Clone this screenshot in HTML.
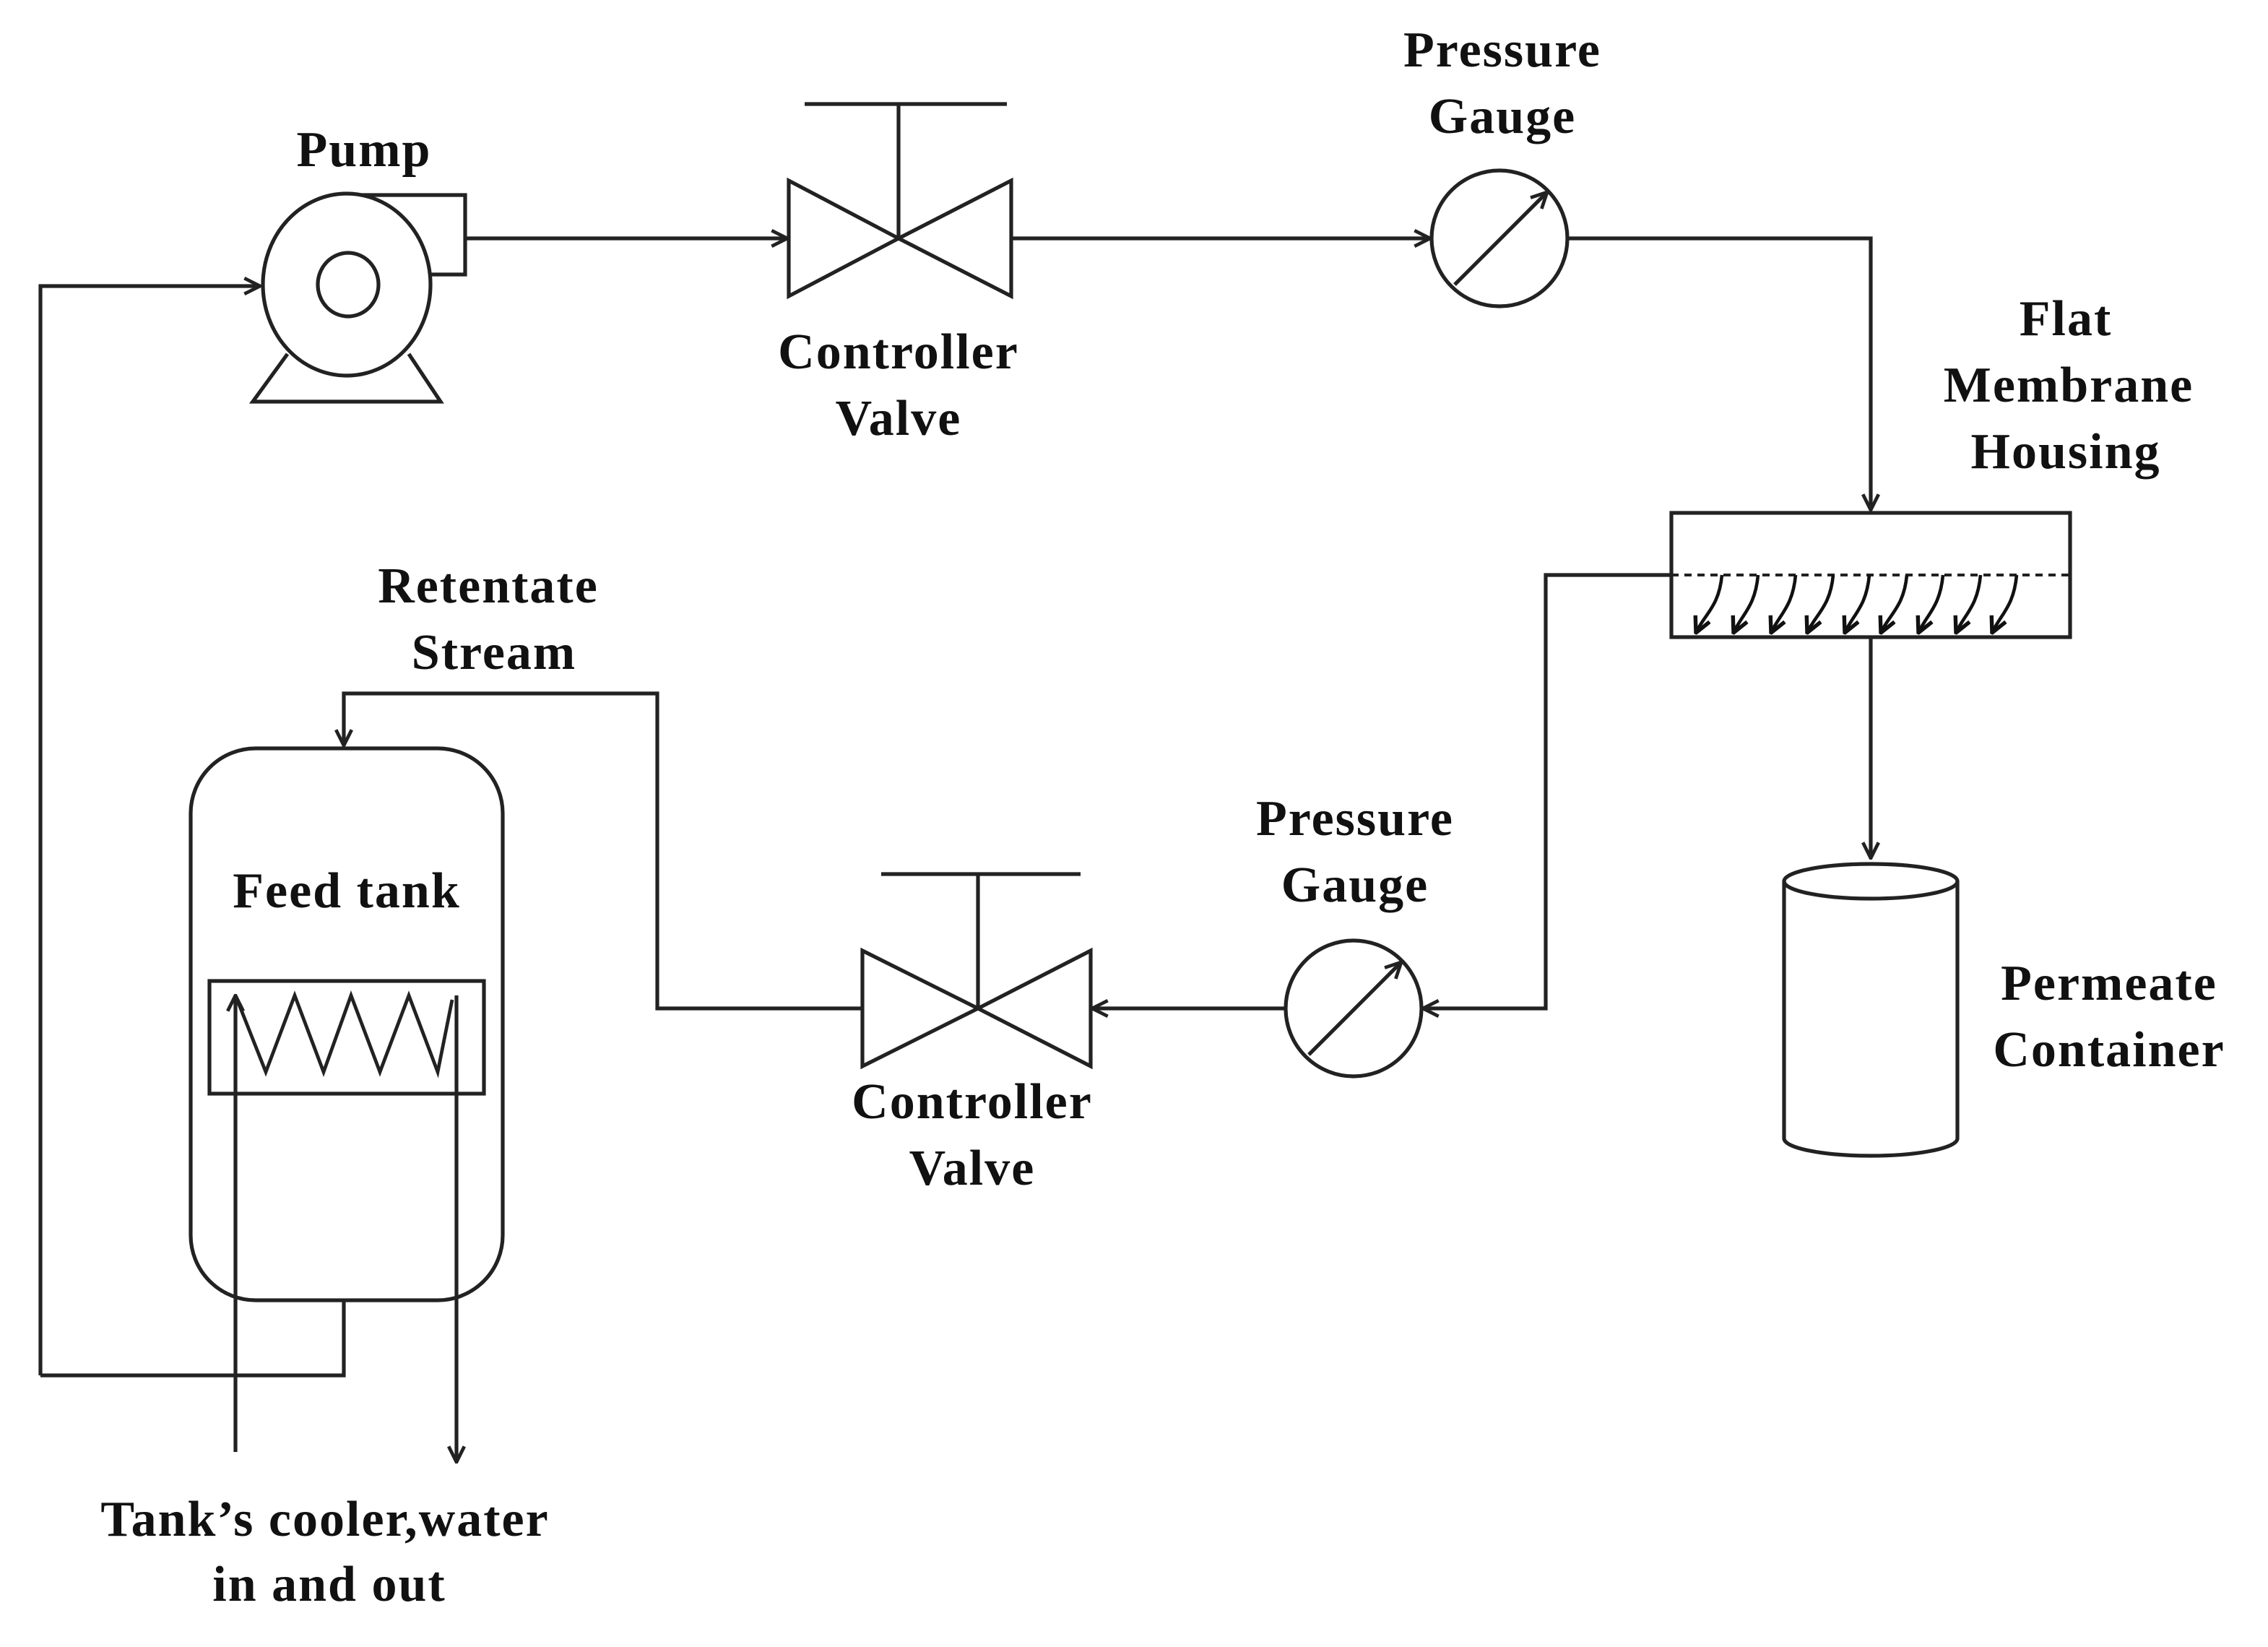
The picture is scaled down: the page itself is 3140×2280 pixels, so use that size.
<!DOCTYPE html>
<html><head><meta charset="utf-8"><style>
html,body{margin:0;padding:0;background:#fff;}
svg{display:block;}
text{font-family:"Liberation Serif",serif;font-weight:bold;font-size:35px;letter-spacing:1px;fill:#111;text-anchor:middle;}
</style></head><body>
<svg width="3140" height="2280" viewBox="0 0 1570 1140" preserveAspectRatio="none" xmlns="http://www.w3.org/2000/svg">
<defs>
<marker id="a" viewBox="0 0 12 12" refX="11" refY="6" markerWidth="13" markerHeight="13" markerUnits="userSpaceOnUse" orient="auto">
<path d="M1,1 L11,6 L1,11" fill="none" stroke="#222" stroke-width="2.2"/>
</marker>
<marker id="s" viewBox="0 0 12 12" refX="11" refY="6" markerWidth="13" markerHeight="13" markerUnits="userSpaceOnUse" orient="auto">
<path d="M1,1 L11,6 L1,11" fill="none" stroke="#111" stroke-width="2.5"/>
</marker>
</defs>
<g fill="none" stroke="#222" stroke-width="2.6">
<ellipse cx="240" cy="197" rx="58" ry="63"/>
<ellipse cx="241" cy="197" rx="21" ry="22"/>
<polyline points="250,135 322,135 322,190 297,190"/>
<polyline points="199,245 175,278 305,278 283,245"/>
<polyline points="28,952 28,198 180,198" marker-end="url(#a)"/>
<line x1="322" y1="165" x2="545" y2="165" marker-end="url(#a)"/>
<polygon points="546,125 546,205 622,165"/>
<polygon points="700,125 700,205 622,165"/>
<line x1="622" y1="165" x2="622" y2="72"/>
<line x1="557" y1="72" x2="697" y2="72"/>
<line x1="700" y1="165" x2="990" y2="165" marker-end="url(#a)"/>
<circle cx="1038" cy="165" r="47"/>
<line x1="1007" y1="197" x2="1071" y2="133" marker-end="url(#a)"/>
<polyline points="1085,165 1295,165 1295,353" marker-end="url(#a)"/>
<rect x="1157" y="355" width="276" height="86"/>
<line x1="1157" y1="398" x2="1433" y2="398" stroke-dasharray="5,4" stroke-width="2"/>
<polyline points="1157,398 1070,398 1070,698 985,698" marker-end="url(#a)"/>
<line x1="1295" y1="441" x2="1295" y2="594" marker-end="url(#a)"/>
<path d="M1235,610 L1235,788 A60,12 0 0 0 1355,788 L1355,610"/>
<ellipse cx="1295" cy="610" rx="60" ry="12"/>
<circle cx="937" cy="698" r="47"/>
<line x1="906" y1="730" x2="970" y2="666" marker-end="url(#a)"/>
<line x1="890" y1="698" x2="756" y2="698" marker-end="url(#a)"/>
<polygon points="597,658 597,738 677,698"/>
<polygon points="755,658 755,738 677,698"/>
<line x1="677" y1="698" x2="677" y2="605"/>
<line x1="610" y1="605" x2="748" y2="605"/>
<polyline points="597,698 455,698 455,480 238,480 238,516" marker-end="url(#a)"/>
<rect x="132" y="518" width="216" height="382" rx="45" ry="45"/>
<polyline points="238,900 238,952 28,952"/>
<rect x="145" y="679" width="190" height="78"/>
<line x1="163" y1="1005" x2="163" y2="689" marker-end="url(#a)"/>
<polyline points="163,689 184,742 204,689 224,742 243,689 263,742 283,689 303,742 313,692" stroke-width="2.4"/>
<line x1="316" y1="689" x2="316" y2="1012" marker-end="url(#a)"/>
</g>
<g fill="none" stroke="#111" stroke-width="2.3">
<path d="M1192,398 C1190,420 1180,425 1174,438" marker-end="url(#s)"/>
<path d="M1217,398 C1215,420 1206,425 1200,438" marker-end="url(#s)"/>
<path d="M1243,398 C1241,420 1232,425 1226,438" marker-end="url(#s)"/>
<path d="M1269,398 C1267,420 1257,425 1251,438" marker-end="url(#s)"/>
<path d="M1294,398 C1292,420 1283,425 1277,438" marker-end="url(#s)"/>
<path d="M1320,398 C1318,420 1308,425 1302,438" marker-end="url(#s)"/>
<path d="M1345,398 C1343,420 1334,425 1328,438" marker-end="url(#s)"/>
<path d="M1371,398 C1369,420 1360,425 1354,438" marker-end="url(#s)"/>
<path d="M1396,398 C1394,420 1385,425 1379,438" marker-end="url(#s)"/>
</g>
<text x="252" y="115">Pump</text>
<text x="622" y="255">Controller</text>
<text x="622" y="301">Valve</text>
<text x="1040" y="46">Pressure</text>
<text x="1040" y="92">Gauge</text>
<text x="1430" y="232">Flat</text>
<text x="1432" y="278">Membrane</text>
<text x="1430" y="324">Housing</text>
<text x="338" y="417">Retentate</text>
<text x="342" y="463">Stream</text>
<text x="240" y="628">Feed tank</text>
<text x="938" y="578">Pressure</text>
<text x="938" y="624">Gauge</text>
<text x="673" y="774">Controller</text>
<text x="673" y="820">Valve</text>
<text x="1460" y="692">Permeate</text>
<text x="1460" y="738">Container</text>
<text x="225" y="1063">Tank’s cooler,water</text>
<text x="228" y="1108">in and out</text>
</svg>
</body></html>
